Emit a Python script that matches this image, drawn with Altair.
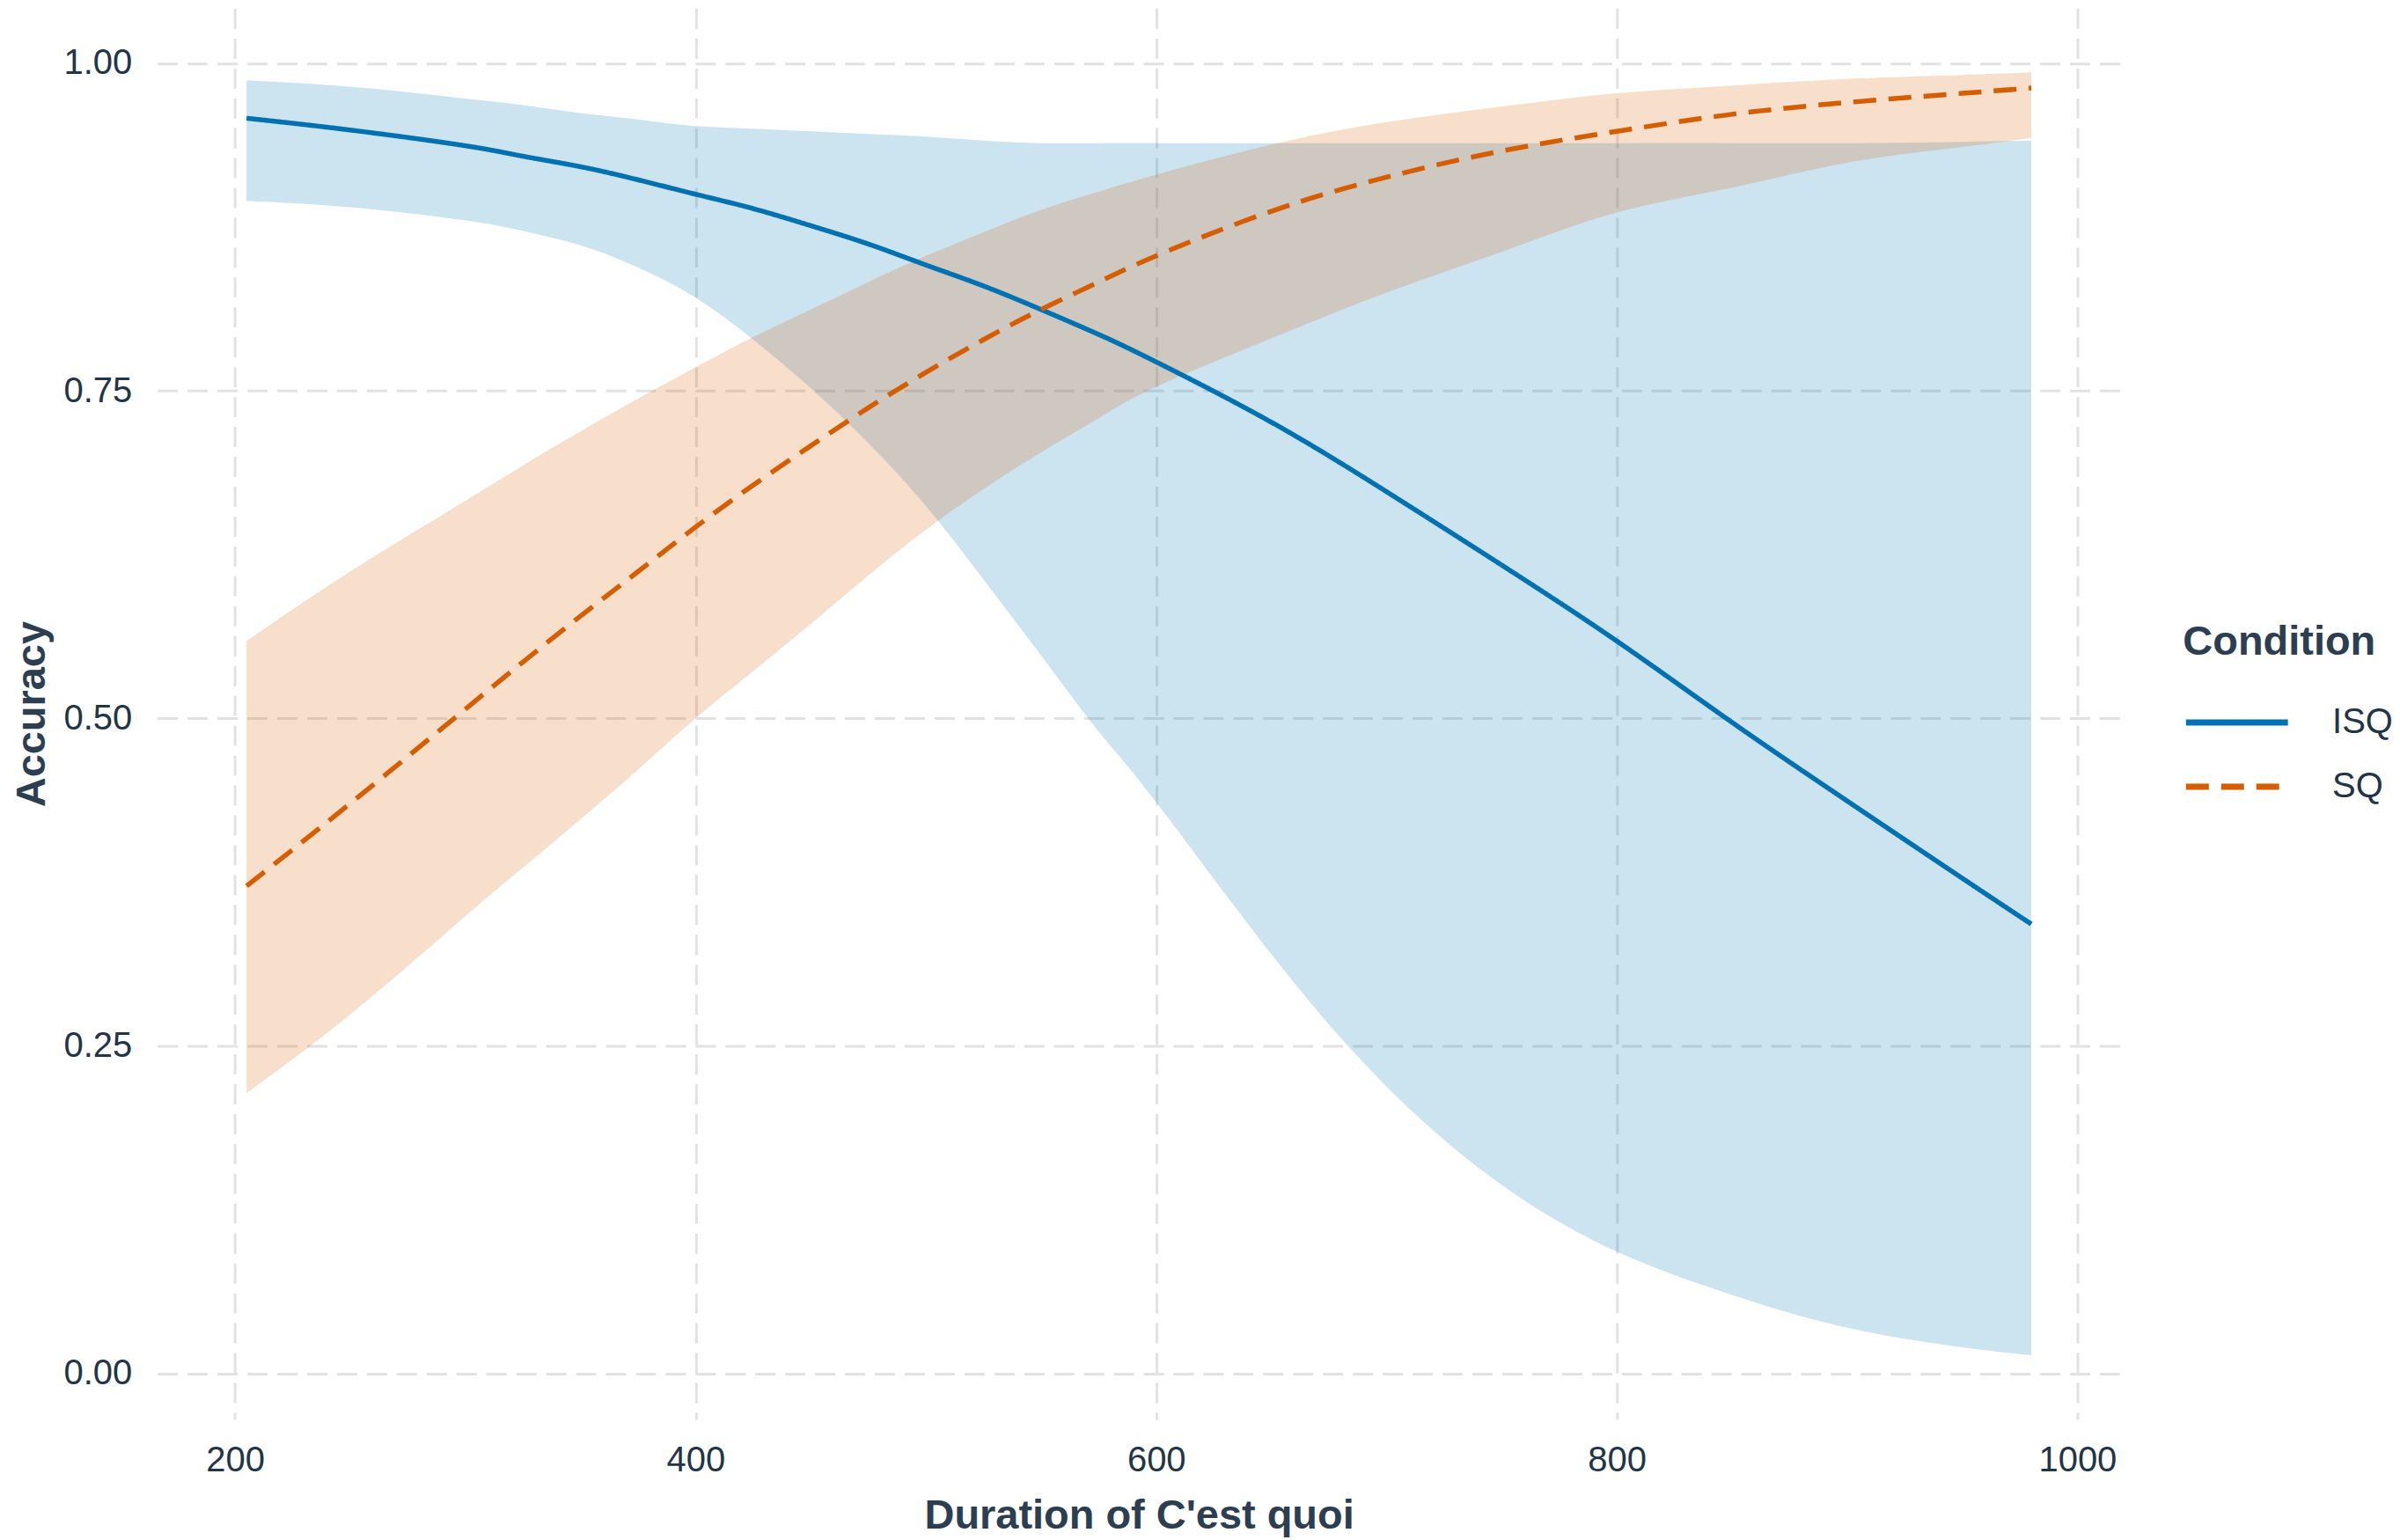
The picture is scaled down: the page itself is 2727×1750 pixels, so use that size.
import altair as alt
import pandas as pd

# Duration of "C'est quoi" (ms) at which the fitted curves were read
duration = [205, 250, 300, 325, 350, 375, 400, 425, 450, 475, 500, 525, 550, 575, 600, 650, 700, 750, 800, 850, 900, 950, 980]

conditions = ["ISQ", "SQ"]

isq_fit = [0.958, 0.949, 0.937, 0.929, 0.921, 0.911, 0.900, 0.889, 0.876, 0.862, 0.846, 0.830, 0.812, 0.793, 0.772, 0.726, 0.673, 0.617, 0.559, 0.497, 0.437, 0.378, 0.343]
isq_lo = [0.895, 0.890, 0.880, 0.872, 0.861, 0.844, 0.821, 0.789, 0.752, 0.710, 0.662, 0.606, 0.548, 0.490, 0.436, 0.320, 0.219, 0.144, 0.093, 0.060, 0.035, 0.020, 0.014]
isq_hi = [0.987, 0.982, 0.973, 0.968, 0.962, 0.957, 0.952, 0.950, 0.948, 0.946, 0.944, 0.941, 0.939, 0.939, 0.939, 0.939, 0.939, 0.939, 0.939, 0.939, 0.939, 0.940, 0.941]

sq_fit = [0.372, 0.435, 0.507, 0.543, 0.578, 0.612, 0.646, 0.678, 0.708, 0.737, 0.764, 0.789, 0.812, 0.833, 0.853, 0.887, 0.913, 0.933, 0.948, 0.961, 0.970, 0.977, 0.981]
sq_lo = [0.214, 0.274, 0.349, 0.386, 0.423, 0.461, 0.500, 0.536, 0.572, 0.609, 0.644, 0.675, 0.703, 0.729, 0.753, 0.790, 0.825, 0.856, 0.886, 0.905, 0.924, 0.936, 0.943]
sq_hi = [0.559, 0.612, 0.666, 0.693, 0.719, 0.744, 0.768, 0.791, 0.812, 0.833, 0.853, 0.871, 0.888, 0.902, 0.915, 0.938, 0.955, 0.967, 0.977, 0.983, 0.988, 0.991, 0.993]

x_ticks = [200, 400, 600, 800, 1000]
y_ticks = [0.0, 0.25, 0.5, 0.75, 1.0]

colors = ["#0072B2", "#D55E00"]
dashes = [[1, 0], [26, 14]]

rows = []
for cond, fit, lo, hi in [("ISQ", isq_fit, isq_lo, isq_hi), ("SQ", sq_fit, sq_lo, sq_hi)]:
    for d, f, l, h in zip(duration, fit, lo, hi):
        rows.append({"Duration": d, "Condition": cond, "fit": f, "lo": l, "hi": h})
df = pd.DataFrame(rows)

FONT = "Liberation Sans"
LABEL = "#243447"
TITLE = "#2C3E50"

x_enc = alt.X(
    "Duration:Q",
    title="Duration of C'est quoi",
    scale=alt.Scale(domain=[166.25, 1018.75], nice=False, zero=False),
    axis=alt.Axis(values=x_ticks, format="d"),
)
y_scale = alt.Scale(domain=[-0.035, 1.042], nice=False, zero=False)

base = alt.Chart(df)

bands = [
    base.transform_filter(alt.datum.Condition == cond)
    .mark_area(color=col, opacity=0.2, interpolate="natural")
    .encode(
        x=x_enc,
        y=alt.Y("lo:Q", title="Accuracy", scale=y_scale,
                axis=alt.Axis(values=y_ticks, format=".2f")),
        y2="hi:Q",
    )
    for cond, col in zip(conditions, colors)
]

leg = alt.Legend(
    title="Condition", orient="none", legendX=2305, legendY=699,
    symbolType="stroke", symbolSize=13456, symbolStrokeWidth=7,
    clipHeight=70, rowPadding=3,
    labelOffset=47, titlePadding=32, padding=0, titleLimit=600,
)

lines = base.mark_line(strokeWidth=5.5, interpolate="natural").encode(
    x=x_enc,
    y=alt.Y("fit:Q", scale=y_scale),
    color=alt.Color("Condition:N", scale=alt.Scale(domain=conditions, range=colors), legend=leg),
    strokeDash=alt.StrokeDash("Condition:N", scale=alt.Scale(domain=conditions, range=dashes), legend=leg),
)

chart = alt.layer(*bands, lines).properties(
    width=2234, height=1606, padding={"left": 4, "top": 0, "right": 0, "bottom": 0}
).configure_view(stroke=None).configure_axis(
    domain=False,
    ticks=False,
    grid=True,
    gridColor="#e2e2e2",
    gridDash=[23, 11],
    gridWidth=3,
    labelFont=FONT,
    labelFontSize=40,
    labelColor=LABEL,
    titleFont=FONT,
    titleFontSize=47,
    titleFontWeight="bold",
    titleColor=TITLE,
).configure_axisX(
    labelPadding=27, titlePadding=20,
).configure_axisY(
    labelPadding=29, titlePadding=12,
).configure_legend(
    titleFont=FONT, titleFontSize=47, titleFontWeight="bold", titleColor=TITLE,
    labelFont=FONT, labelFontSize=40, labelColor=LABEL,
)

chart.save("out.html", embed_options={"renderer": "svg", "actions": False})
